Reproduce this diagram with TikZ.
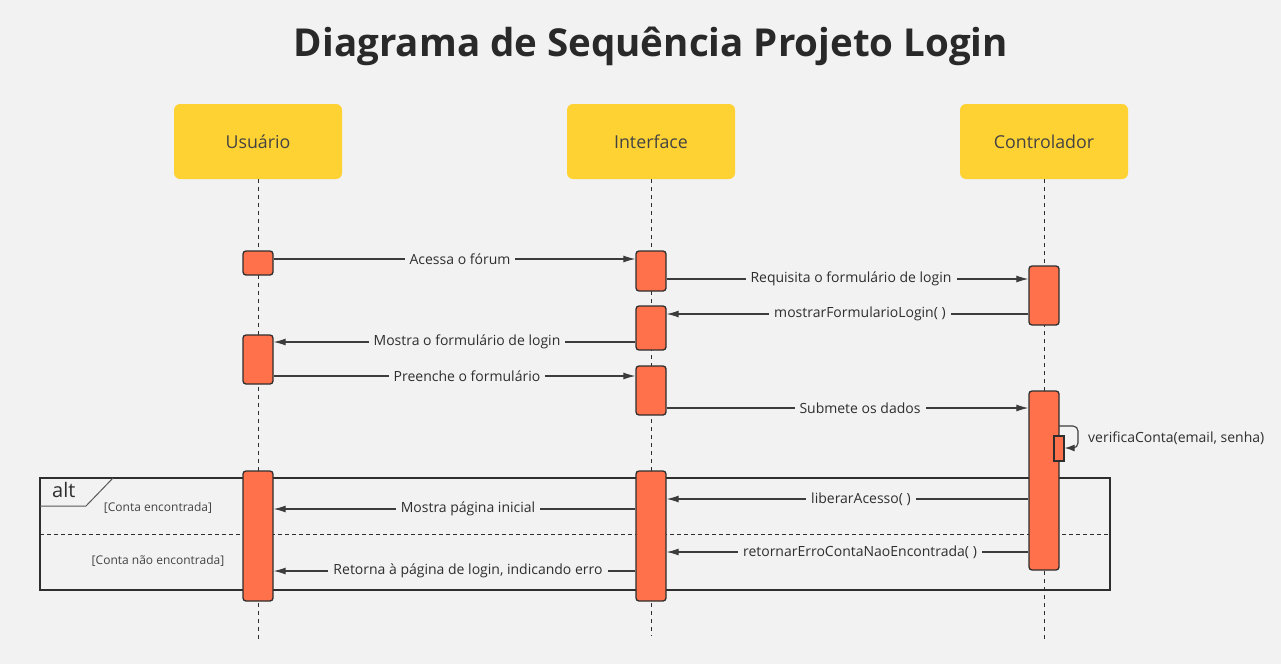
\documentclass[tikz,border=0pt]{standalone}
\usepackage{fontspec}
\setmainfont{Open Sans}
\usetikzlibrary{arrows.meta}
\definecolor{pagebg}{HTML}{F2F2F2}
\definecolor{headfill}{HTML}{FFD233}
\definecolor{actfill}{HTML}{FF714B}
\definecolor{ink}{HTML}{2E2E2E}
\definecolor{wire}{HTML}{3C3C3C}
\begin{document}
\begin{tikzpicture}[x=1pt,y=-1pt,
  head/.style={fill=headfill, rounded corners=6pt, minimum width=168pt, minimum height=75pt,
    inner sep=0pt, text=ink!90, font=\fontsize{17.8}{20}\selectfont},
  act/.style={draw=ink, line width=1.3pt, fill=actfill, rounded corners=3pt,
    minimum width=30pt, inner sep=0pt},
  life/.style={draw=ink, dashed, dash pattern=on 4pt off 4pt, line width=0.9pt},
  msg/.style={draw=wire, line width=1.1pt, -{Latex[length=12pt,width=7pt]}},
  lbl/.style={fill=pagebg, inner xsep=5pt, inner ysep=1pt, text=ink,
    font=\fontsize{14}{16}\selectfont},
  guard/.style={text=ink!90, font=\fontsize{12}{14}\selectfont},
]
\useasboundingbox[fill=pagebg] (0,0) rectangle (1281,664);

% title
\node[font=\bfseries\fontsize{38.5}{44}\selectfont, text=ink!90!black] (title) at (651,46) {Diagrama de Sequência Projeto Login};

% participants
\node[head] (usr) at (258,141.5) {Usuário};
\node[head] (ifc) at (651,141.5) {Interface};
\node[head] (ctl) at (1044,141.5) {Controlador};

% lifelines
\coordinate (uEnd) at (258,641);
\coordinate (iEnd) at (651,636);
\coordinate (cEnd) at (1044,643);
\draw[life] (usr.south) -- (uEnd);
\draw[life] (ifc.south) -- (iEnd);
\draw[life] (ctl.south) -- (cEnd);

% alt fragment
\coordinate (fTL) at (40,478);
\coordinate (fBR) at (1110,590);
\coordinate (tagA) at (40,506);
\coordinate (tagB) at (86,506);
\coordinate (tagC) at (113,478);
\coordinate (sepL) at (40,534);
\coordinate (sepR) at (1110,534);
\draw[draw=ink, line width=1.3pt] (fTL) rectangle (fBR);
\draw[draw=ink!80, line width=1pt] (tagA) -- (tagB) -- (tagC);
\draw[draw=ink, dashed, dash pattern=on 4pt off 3pt, line width=0.9pt] (sepL) -- (sepR);
\node[anchor=west, text=ink, font=\fontsize{20}{22}\selectfont, inner sep=0pt] (altlbl) at (52,490) {alt};
\node[guard] (g1) at (158,508) {[Conta encontrada]};
\node[guard] (g2) at (158,561) {[Conta não encontrada]};

% activations
\node[act, minimum height=24pt] (a1) at (258,263) {};
\node[act, minimum height=49pt] (a2) at (258,359.5) {};
\node[act, minimum height=130pt] (a3) at (258,536) {};
\node[act, minimum height=40pt] (b1) at (651,271) {};
\node[act, minimum height=44pt] (b2) at (651,328) {};
\node[act, minimum height=49pt] (b3) at (651,390.5) {};
\node[act, minimum height=130pt] (b4) at (651,536) {};
\node[act, minimum height=59pt] (c1) at (1044,295.5) {};
\node[act, minimum height=179pt] (c2) at (1044,480.5) {};
\node[draw=ink, line width=1.3pt, fill=actfill, minimum width=10pt, minimum height=25pt, inner sep=0pt] (c3) at (1059,448.5) {};

% message rows
\coordinate (m1) at (0,259);
\coordinate (m2) at (0,279);
\coordinate (m3) at (0,314);
\coordinate (m4) at (0,342);
\coordinate (m5) at (0,376);
\coordinate (m6) at (0,408);
\coordinate (m7) at (0,499);
\coordinate (m8) at (0,509);
\coordinate (m9) at (0,552);
\coordinate (m10) at (0,571);

\draw[msg] (a1.east |- m1) -- (b1.west |- m1);
\node[lbl] (l1) at (460,259) {Acessa o fórum};
\draw[msg] (b1.east |- m2) -- (c1.west |- m2);
\node[lbl] (l2) at (851,279) {Requisita o formulário de login};
\draw[msg] (c1.west |- m3) -- (b2.east |- m3);
\node[lbl] (l3) at (860,314) {mostrarFormularioLogin( )};
\draw[msg] (b2.west |- m4) -- (a2.east |- m4);
\node[lbl] (l4) at (467,342) {Mostra o formulário de login};
\draw[msg] (a2.east |- m5) -- (b3.west |- m5);
\node[lbl] (l5) at (467,376) {Preenche o formulário};
\draw[msg] (b3.east |- m6) -- (c2.west |- m6);
\node[lbl] (l6) at (860,408) {Submete os dados};

% self call
\coordinate (sOut) at (1059,426);
\coordinate (sTurn) at (1078,437);
\coordinate (sBack) at (0,448);
\draw[draw=wire, line width=1.1pt, -{Latex[length=10pt,width=7pt]}, rounded corners=5pt]
  (sOut) -| (sTurn) |- (c3.east |- sBack);
\node[lbl, anchor=west, fill=none, inner xsep=0pt] (l7) at (1088,438) {verificaConta(email, senha)};

\draw[msg] (c2.west |- m7) -- (b4.east |- m7);
\node[lbl] (l8) at (861,499) {liberarAcesso( )};
\draw[msg] (b4.west |- m8) -- (a3.east |- m8);
\node[lbl] (l9) at (468,509) {Mostra página inicial};
\draw[msg] (c2.west |- m9) -- (b4.east |- m9);
\node[lbl] (l10) at (860,552) {retornarErroContaNaoEncontrada( )};
\draw[msg] (b4.west |- m10) -- (a3.east |- m10);
\node[lbl] (l11) at (468,571) {Retorna à página de login, indicando erro};
\end{tikzpicture}
\end{document}
